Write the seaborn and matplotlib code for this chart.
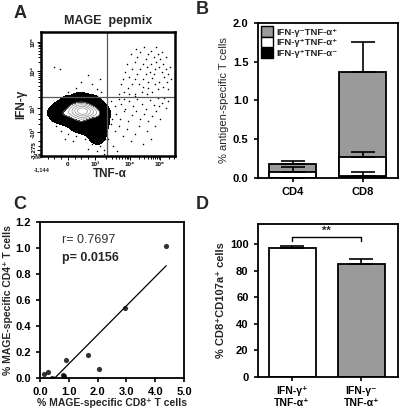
import numpy as np
import matplotlib
matplotlib.use("Agg")
import matplotlib.pyplot as plt
from matplotlib.colors import ListedColormap
from matplotlib.patches import Patch
import seaborn as sns

# ---------------- panel A: flow plot (display units 0-100 on both axes)
FLOW_X = [62, 65, 68, 70, 72, 74, 76, 78, 80, 82, 84, 86, 88, 90, 92, 94, 85, 80, 75, 70,
          66, 68, 70, 72, 74, 77, 79, 81, 83, 85, 87, 89, 91, 93, 95, 88, 82, 76, 73, 78,
          60, 63, 64, 67, 71, 86, 90, 96, 84, 80, 58, 61, 76, 79, 83, 87, 91, 95, 97, 93,
          52, 55, 58, 60, 63, 66, 69, 72, 75, 78, 81, 84, 87, 90, 93, 56, 59, 62, 65, 68,
          71, 74, 77, 80, 83, 86, 89, 52, 55, 58, 61, 64, 67, 70, 73, 76, 79, 82, 85, 88,
          51, 53, 50, 54, 57, 92, 95, 62, 66, 70,
          46, 44, 42, 36, 32, 26, 20, 16, 12, 8, 6, 8, 11, 15, 20, 26, 33, 38, 44, 47,
          48, 47, 48, 49, 47, 42, 35, 24, 18, 10,
          10, 14, 30, 38, 26, 42, 45, 20, 35, 44]
FLOW_Y = [52, 55, 58, 62, 66, 70, 74, 78, 82, 85, 80, 76, 72, 68, 64, 60, 58, 55, 52, 50,
          64, 70, 76, 80, 84, 88, 72, 68, 63, 70, 82, 78, 74, 70, 66, 60, 74, 62, 58, 66,
          58, 68, 74, 82, 86, 88, 84, 72, 66, 60, 50, 62, 56, 50, 52, 54, 56, 54, 62, 80,
          44, 40, 46, 42, 38, 44, 40, 46, 42, 38, 45, 41, 47, 43, 39, 34, 30, 36, 28, 33,
          36, 30, 34, 28, 32, 36, 30, 26, 20, 24, 16, 22, 12, 18, 24, 10, 20, 14, 24, 40,
          36, 30, 14, 8, 4, 47, 44, 46, 50, 48,
          44, 47, 48, 49, 50, 48, 47, 45, 42, 38, 33, 28, 24, 20, 18, 16, 14, 10, 8, 5,
          14, 24, 32, 40, 2, 4, 6, 12, 14, 30,
          72, 70, 60, 58, 55, 54, 52, 52, 65, 62]
BLOB_X = [31, 28, 34, 31, 31, 26, 36, 29, 33, 24, 38, 30, 32,
          20, 42, 22, 40, 23, 39, 30, 30, 17, 45, 35, 25,
          12, 14, 15, 47, 46, 20, 40, 30, 38, 43, 28, 10, 45, 41]
BLOB_Y = [36, 36, 36, 38, 34, 37, 35, 33, 39, 35, 37, 40, 31,
          36, 36, 31, 31, 41, 41, 44, 27, 34, 33, 24, 26,
          35, 40, 29, 38, 28, 45, 46, 48, 20, 17, 22, 33, 22, 12]
GATE_X = 49.3
GATE_Y = 47.6
A_XTICKS = [20, 40.3, 66.4, 88.8]
A_XTICKLABELS = ["0", "10³", "10⁴", "10⁵"]
A_YTICKS = [4.8, 19.4, 38.7, 68.5, 92]
A_YTICKLABELS = ["-3,275", "-10³", "10³", "10⁴", "10⁵"]

# ---------------- panel B: stacked cytokine subsets
B_GROUPS = ["CD4", "CD8"]
B_POS_NEG = [0.003, 0.02]     # IFN-g+ TNF-a-
B_POS_POS = [0.072, 0.25]     # IFN-g+ TNF-a+
B_NEG_POS = [0.105, 1.095]    # IFN-g- TNF-a+
B_ERR_POS_NEG = [0.0, 0.055]
B_ERR_POS_POS = [0.065, 0.06]
B_ERR_NEG_POS = [0.04, 0.385]
B_LABELS = ["IFN-γ⁻TNF-α⁺", "IFN-γ⁺TNF-α⁺", "IFN-γ⁺TNF-α⁻"]

# ---------------- panel C: CD8 vs CD4 correlation
C_CD8 = [0.13, 0.28, 0.40, 0.81, 0.84, 0.91, 1.67, 2.05, 2.96, 4.38]
C_CD4 = [0.034, 0.049, 0.003, 0.023, 0.013, 0.142, 0.178, 0.072, 0.542, 1.019]

# ---------------- panel D: CD107a
D_GROUPS = ["IFN-γ⁺\nTNF-α⁺", "IFN-γ⁻\nTNF-α⁺"]
D_VALUES = [97.3, 85.2]
D_ERR = [1.2, 3.6]

GREY = "#9a9a9a"

sns.set_style("ticks")
plt.rcParams["font.family"] = ["Liberation Sans", "DejaVu Sans"]
plt.rcParams["font.weight"] = "bold"
plt.rcParams["axes.labelweight"] = "bold"
plt.rcParams["axes.linewidth"] = 1.3
plt.rcParams["xtick.major.width"] = 1.2
plt.rcParams["ytick.major.width"] = 1.2
plt.rcParams["xtick.major.size"] = 3
plt.rcParams["ytick.major.size"] = 3
plt.rcParams["xtick.color"] = "black"
plt.rcParams["ytick.color"] = "black"
plt.rcParams["axes.edgecolor"] = "black"

fig = plt.figure(figsize=(4, 4.15), dpi=100)


def fig_text(px, py, s, **kw):
    fig.text(px / 400, 1 - py / 415, s, ha="center", va="center", **kw)


# ---- A
axA = fig.add_axes([0.1025, 0.6241, 0.335, 0.2988])
sns.kdeplot(x=BLOB_X, y=BLOB_Y, fill=True, levels=[0.08, 0.6],
            cmap=ListedColormap(["black"]), bw_adjust=0.85, ax=axA)
sns.kdeplot(x=BLOB_X, y=BLOB_Y, fill=False, levels=[0.6, 0.7, 0.79, 0.87, 0.94],
            color="0.55", linewidths=0.5, bw_adjust=0.85, ax=axA)
sns.scatterplot(x=FLOW_X, y=FLOW_Y, s=1.2, color="black", linewidth=0, ax=axA)
axA.axvline(GATE_X, color="0.35", lw=0.9)
axA.axhline(GATE_Y, color="0.35", lw=0.9)
axA.set_xlim(0, 100)
axA.set_ylim(0, 100)
for sp in axA.spines.values():
    sp.set_linewidth(1.8)
axA.set_xticks(A_XTICKS, A_XTICKLABELS, fontsize=4.5)
axA.set_yticks(A_YTICKS, A_YTICKLABELS, fontsize=4.5, rotation=90, va="center")
minor = [5, 10, 15, 25, 30, 35]
for s0, w in [(40.3, 26.1), (66.4, 22.4), (88.8, 22.4)]:
    minor += [s0 + w * np.log10(k) for k in range(2, 10) if s0 + w * np.log10(k) < 100]
axA.set_xticks(minor, minor=True)
axA.set_yticks([2, 8, 12, 26, 30, 34] + [38.7 + 29.8 * np.log10(k) for k in range(2, 10)]
               + [68.5 + 23.5 * np.log10(k) for k in range(2, 10) if 68.5 + 23.5 * np.log10(k) < 100],
               minor=True)
axA.tick_params(which="both", direction="out", length=2, width=0.7, pad=1)
axA.tick_params(which="major", length=3)
axA.set_xlabel("")
axA.set_ylabel("")
fig_text(108, 21, "MAGE  pepmix", fontsize=9)
fig_text(21, 104, "IFN-γ", fontsize=8.5, rotation=90)
fig_text(110, 174, "TNF-α", fontsize=8.5)
fig_text(42, 170, "-1,144", fontsize=4)
fig_text(37, 157, "M", fontsize=5)

# ---- B
axB = fig.add_axes([0.644, 0.5711, 0.351, 0.3735])
b_black = np.array(B_POS_NEG)
b_white = b_black + np.array(B_POS_POS)
b_grey = b_white + np.array(B_NEG_POS)
for tops, col in [(b_grey, GREY), (b_white, "white"), (b_black, "black")]:
    sns.barplot(x=B_GROUPS, y=tops, color=col, saturation=1, edgecolor="black",
                linewidth=1.3, width=0.67, ax=axB)
for tops, errs in [(b_grey, B_ERR_NEG_POS), (b_white, B_ERR_POS_POS), (b_black, B_ERR_POS_NEG)]:
    axB.errorbar([0, 1], tops, yerr=[np.zeros(2), errs], fmt="none", ecolor="black",
                 elinewidth=1.2, capsize=8.5, capthick=1.2)
axB.set_xlim(-0.5, 1.5)
axB.set_ylim(0, 2.0)
axB.set_yticks([0, 0.5, 1.0, 1.5, 2.0], ["0.0", "0.5", "1.0", "1.5", "2.0"])
axB.tick_params(labelsize=8)
axB.set_ylabel("% antigen-specific T cells", fontsize=8, fontweight="normal", labelpad=3)
handles = [Patch(facecolor=c, edgecolor="black", linewidth=1) for c in [GREY, "white", "black"]]
axB.legend(handles, B_LABELS, loc="upper left", frameon=False, fontsize=6.8,
           handlelength=1.3, handleheight=1.3, labelspacing=0.05, handletextpad=0.3,
           borderaxespad=0.25, borderpad=0.1)

# ---- C
axC = fig.add_axes([0.1, 0.0892, 0.36, 0.3759])
sns.regplot(x=C_CD8, y=C_CD4, ci=None, truncate=True, color="black",
            scatter_kws={"s": 14, "linewidths": 0}, line_kws={"lw": 0.9}, ax=axC)
axC.set_xlim(0, 5.0)
axC.set_ylim(0, 1.2)
axC.set_xticks([0, 1, 2, 3, 4, 5], ["0.0", "1.0", "2.0", "3.0", "4.0", "5.0"])
axC.set_yticks([0, 0.2, 0.4, 0.6, 0.8, 1.0, 1.2],
               ["0.0", "0.2", "0.4", "0.6", "0.8", "1.0", "1.2"])
axC.tick_params(labelsize=8)
axC.set_xlabel("% MAGE-specific CD8⁺ T cells", fontsize=7.5, labelpad=1)
axC.set_ylabel("% MAGE-specific CD4⁺ T cells", fontsize=7.5, labelpad=2)
axC.text(0.77, 1.04, "r= 0.7697", fontsize=9, fontweight="normal", color="0.2")
axC.text(0.77, 0.90, "p= 0.0156", fontsize=9)

# ---- D
axD = fig.add_axes([0.644, 0.0916, 0.351, 0.3687])
sns.barplot(x=D_GROUPS, y=D_VALUES, hue=D_GROUPS, palette=["white", GREY], legend=False,
            saturation=1, edgecolor="black", linewidth=1.3, width=0.68, ax=axD)
axD.errorbar([0, 1], D_VALUES, yerr=[np.zeros(2), D_ERR], fmt="none", ecolor="black",
             elinewidth=1.2, capsize=8.5, capthick=1.2)
axD.plot([0, 0, 1, 1], [102.5, 105, 105, 102.5], color="black", lw=1)
axD.text(0.5, 106, "**", ha="center", va="bottom", fontsize=8)
axD.set_xlim(-0.5, 1.53)
axD.set_ylim(0, 115)
axD.set_yticks([0, 20, 40, 60, 80, 100])
axD.tick_params(labelsize=8)
axD.tick_params(axis="x", labelsize=7.5)
axD.set_ylabel("% CD8⁺CD107a⁺ cells", fontsize=8, labelpad=3)

fig_text(20, 13, "A", fontsize=13)
fig_text(202, 9, "B", fontsize=13)
fig_text(20, 204, "C", fontsize=13)
fig_text(202, 204, "D", fontsize=13)

fig.savefig("out.png", dpi=100)
